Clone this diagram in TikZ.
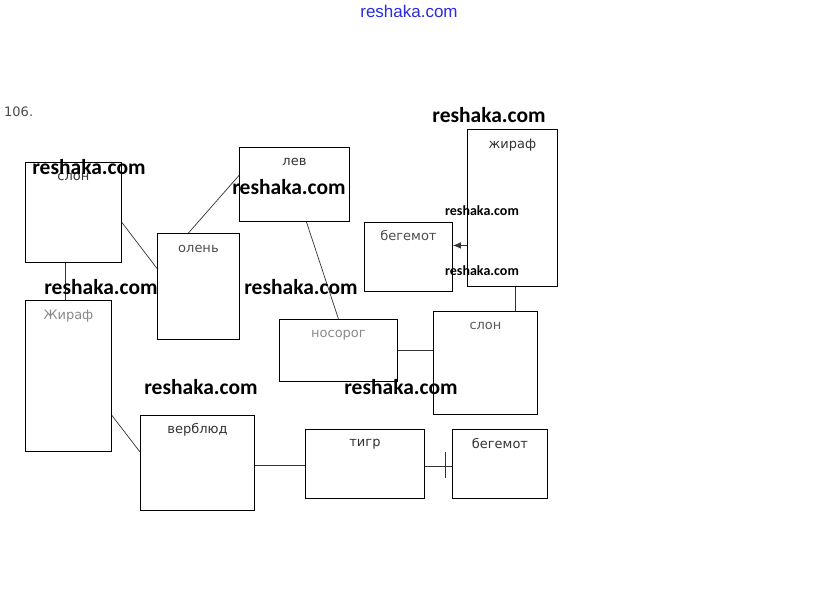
\documentclass[tikz,border=0pt]{standalone}
\usepackage{fontspec}
\setmainfont{DejaVu Sans}
\newfontfamily\wmfont{Carlito}
\newfontfamily\topfont{Liberation Sans}
\usetikzlibrary{arrows.meta}
\definecolor{lblgray}{HTML}{333333}
\definecolor{fadegray}{HTML}{8A8A8A}
\definecolor{topblue}{HTML}{2B2BE0}
\tikzset{
  box/.style={draw=black, line width=0.9pt, inner sep=0pt, anchor=north west},
  lbl/.style={font=\fontsize{13}{15}\selectfont, text=lblgray, inner sep=0pt},
  lab/.style={label={[lbl,anchor=center,yshift=-15pt]north:#1}},
  fadelab/.style={label={[lbl,text=fadegray,anchor=center,yshift=-16pt]north:#1}},
  conn/.style={draw=black!80, line width=0.7pt},
  wmbig/.style={font=\wmfont\bfseries\fontsize{21.5}{24}\selectfont, inner sep=0pt},
  wmsmall/.style={font=\wmfont\bfseries\fontsize{14}{16}\selectfont, inner sep=0pt}
}
\begin{document}
\begin{tikzpicture}[x=1pt,y=-1pt]
\useasboundingbox (0,0) rectangle (816,610);
\fill[white] (0,0) rectangle (816,610);

% boxes
\node[box, minimum width=96pt, minimum height=100pt, lab={слон}] (slon1) at (25,162) {};
\node[box, minimum width=110pt, minimum height=74pt, lab={лев}] (lev) at (239,147) {};
\node[box, minimum width=82pt, minimum height=106pt, label={[lbl,text=black!70,anchor=center,yshift=-16pt]north:олень}] (olen) at (157,233) {};
\node[box, minimum width=90pt, minimum height=157pt, label={[lbl,anchor=center,yshift=-16pt]north:жираф}] (zhir2) at (467,129) {};
\node[box, minimum width=88pt, minimum height=69pt, label={[lbl,text=black!70,anchor=center,yshift=-14pt]north:бегемот}] (beg1) at (364,222) {};
\node[box, minimum width=86pt, minimum height=151pt, fadelab={Жираф}] (zhir1) at (25,300) {};
\node[box, minimum width=118pt, minimum height=62pt, fadelab={носорог}] (nos) at (279,319) {};
\node[box, minimum width=104pt, minimum height=103pt, label={[lbl,text=black!65,anchor=center,yshift=-15pt]north:слон}] (slon2) at (433,311) {};
\node[box, minimum width=114pt, minimum height=95pt, lab={верблюд}] (verb) at (140,415) {};
\node[box, minimum width=119pt, minimum height=69pt, lab={тигр}] (tigr) at (305,429) {};
\node[box, minimum width=95pt, minimum height=69pt, lab={бегемот}] (beg2) at (452,429) {};

% connectors
\draw[conn] ([xshift=-8pt]slon1.south) -- ([xshift=-8pt]slon1.south |- zhir1.north);
\draw[conn] ([yshift=-10pt]slon1.east) -- ([yshift=18pt]olen.west);
\draw[conn] ([xshift=-10pt]olen.north) -- ([yshift=9pt]lev.west);
\draw[conn] ([xshift=12pt]lev.south) -- (nos.north);
\draw[conn, -{Latex[length=8pt,width=6.5pt]}] ([yshift=-37.5pt]zhir2.west) -- ([yshift=-37.5pt]zhir2.west -| beg1.east);
\draw[conn] ([xshift=3pt]zhir2.south) -- ([xshift=3pt]zhir2.south |- slon2.north);
\draw[conn] (nos.east) -- (nos.east -| slon2.west);
\draw[conn] ([yshift=-39.5pt]zhir1.east) -- ([yshift=11pt]verb.west);
\draw[conn] ([yshift=-2pt]verb.east) -- ([yshift=-2pt]verb.east -| tigr.west);
\draw[conn] ([yshift=-2pt]tigr.east) -- ([yshift=-2pt]tigr.east -| beg2.west);
\coordinate (tickA) at ([xshift=-6.5pt,yshift=12pt]beg2.west);
\coordinate (tickB) at ([xshift=-6.5pt,yshift=-14pt]beg2.west);
\draw[conn] (tickA) -- (tickB);

% texts
\node[font=\topfont\fontsize{17}{19}\selectfont, text=topblue, inner sep=0pt] (top) at (409,11) {reshaka.com};
\node[font=\fontsize{13}{15}\selectfont, text=black!70, inner sep=0pt, anchor=west] (num) at (4,112) {106.};

\node[wmbig] (w1) at (489,115) {reshaka.com};
\node[wmbig] (w2) at (89,167) {reshaka.com};
\node[wmbig] (w3) at (289,187) {reshaka.com};
\node[wmbig] (w4) at (101,287) {reshaka.com};
\node[wmbig] (w5) at (301,287) {reshaka.com};
\node[wmbig] (w6) at (201,387) {reshaka.com};
\node[wmbig] (w7) at (401,387) {reshaka.com};
\node[wmsmall] (w8) at (482,211) {reshaka.com};
\node[wmsmall] (w9) at (482,271) {reshaka.com};
\end{tikzpicture}
\end{document}
